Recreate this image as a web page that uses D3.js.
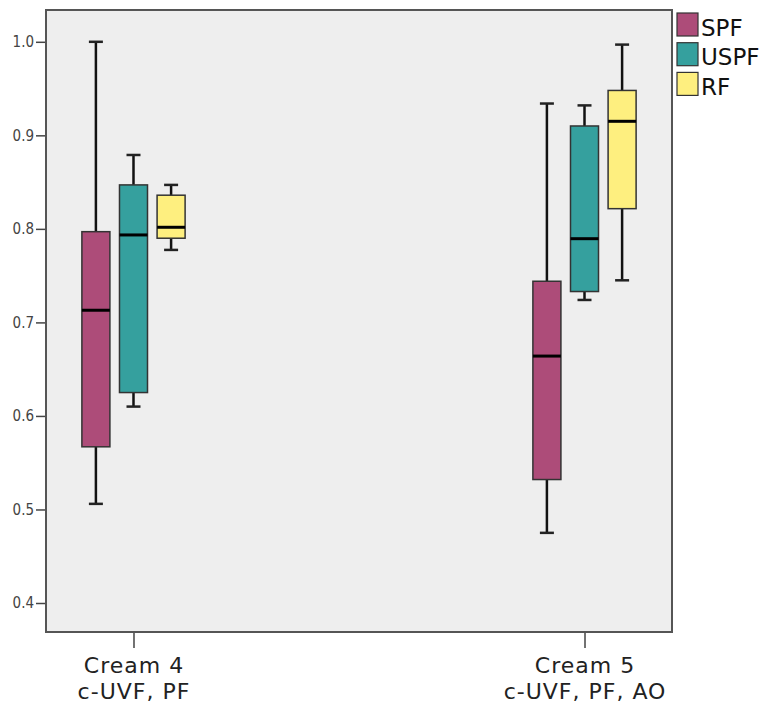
<!DOCTYPE html>
<html>
<head>
<meta charset="utf-8">
<script src="https://cdn.jsdelivr.net/npm/d3@7"></script>
<style>
  html, body { margin: 0; padding: 0; background: #ffffff; }
  svg { display: block; }
</style>
</head>
<body>
<svg id="chart" width="760" height="704"></svg>
<script>
// ---- data ----
const categories = ["Cream 4", "Cream 5"];
const categorySubLabels = ["c-UVF, PF", "c-UVF, PF, AO"];
const series = ["SPF", "USPF", "RF"];
const seriesColors = ["#AD4C79", "#35A09E", "#FEEF7F"];
const yTicks = [0.4, 0.5, 0.6, 0.7, 0.8, 0.9, 1.0];

// box statistics per series, one value per category
const SPF_min    = [0.506, 0.475];
const SPF_q1     = [0.567, 0.532];
const SPF_median = [0.713, 0.664];
const SPF_q3     = [0.797, 0.744];
const SPF_max    = [1.000, 0.934];

const USPF_min    = [0.610, 0.724];
const USPF_q1     = [0.625, 0.733];
const USPF_median = [0.7935, 0.7895];
const USPF_q3     = [0.847, 0.910];
const USPF_max    = [0.879, 0.932];

const RF_min    = [0.7775, 0.745];
const RF_q1     = [0.790, 0.8216];
const RF_median = [0.8017, 0.915];
const RF_q3     = [0.836, 0.948];
const RF_max    = [0.847, 0.997];

const stats = {
  SPF:  {min: SPF_min,  q1: SPF_q1,  med: SPF_median,  q3: SPF_q3,  max: SPF_max},
  USPF: {min: USPF_min, q1: USPF_q1, med: USPF_median, q3: USPF_q3, max: USPF_max},
  RF:   {min: RF_min,   q1: RF_q1,   med: RF_median,   q3: RF_q3,   max: RF_max}
};

// ---- layout ----
const plot = {left: 46, top: 10, right: 672, bottom: 632};
const svg = d3.select("#chart");

const y = d3.scaleLinear().domain([0.369, 1.034]).range([plot.bottom, plot.top]);
const x = d3.scalePoint().domain(categories).range([plot.left, plot.right]).padding(0.194);
const xs = d3.scaleBand().domain(series).range([-56.4, 56.4]).paddingInner(0.255).paddingOuter(0.1275);
const color = d3.scaleOrdinal().domain(series).range(seriesColors);

// plot background
svg.append("rect")
  .attr("x", plot.left).attr("y", plot.top)
  .attr("width", plot.right - plot.left).attr("height", plot.bottom - plot.top)
  .attr("fill", "#eeeeee");

// y axis
const yAxis = svg.append("g")
  .attr("transform", `translate(${plot.left},0)`)
  .call(d3.axisLeft(y).tickValues(yTicks).tickFormat(d3.format(".1f")).tickSize(10).tickPadding(2));
yAxis.select(".domain").remove();
yAxis.selectAll(".tick line").attr("stroke", "#444").attr("stroke-width", 1.5);
yAxis.selectAll(".tick text")
  .attr("font-family", "'DejaVu Sans Condensed', 'DejaVu Sans', sans-serif")
  .attr("font-size", 15).attr("fill", "#444");

// x axis
const xAxis = svg.append("g")
  .attr("transform", `translate(0,${plot.bottom})`)
  .call(d3.axisBottom(x).tickSize(16).tickFormat(""));
xAxis.select(".domain").remove();
xAxis.selectAll(".tick line").attr("stroke", "#444").attr("stroke-width", 1.5);
xAxis.selectAll(".tick text").remove();
xAxis.selectAll(".tick").each(function(d, i) {
  const g = d3.select(this);
  [categories[i], categorySubLabels[i]].forEach((label, k) => {
    g.append("text")
      .attr("text-anchor", "middle")
      .attr("x", 0).attr("y", 41 + k * 26)
      .attr("font-family", "'DejaVu Sans', sans-serif")
      .attr("font-size", 22)
      .attr("letter-spacing", 1)
      .attr("fill", "#222")
      .text(label);
  });
});

// boxes
const bw = xs.bandwidth();
const capW = 14;
series.forEach(s => {
  const st = stats[s];
  const g = svg.append("g").attr("class", "series-" + s);
  categories.forEach((c, i) => {
    const cx = x(c) + xs(s) + bw / 2;
    const left = x(c) + xs(s);
    // whiskers
    g.append("line").attr("x1", cx).attr("x2", cx).attr("y1", y(st.max[i])).attr("y2", y(st.q3[i]))
      .attr("stroke", "#111").attr("stroke-width", 2.5);
    g.append("line").attr("x1", cx).attr("x2", cx).attr("y1", y(st.q1[i])).attr("y2", y(st.min[i]))
      .attr("stroke", "#111").attr("stroke-width", 2.5);
    g.append("line").attr("x1", cx - capW / 2).attr("x2", cx + capW / 2).attr("y1", y(st.max[i])).attr("y2", y(st.max[i]))
      .attr("stroke", "#222").attr("stroke-width", 2.5);
    g.append("line").attr("x1", cx - capW / 2).attr("x2", cx + capW / 2).attr("y1", y(st.min[i])).attr("y2", y(st.min[i]))
      .attr("stroke", "#222").attr("stroke-width", 2.5);
    // box
    g.append("rect").attr("x", left).attr("width", bw)
      .attr("y", y(st.q3[i])).attr("height", y(st.q1[i]) - y(st.q3[i]))
      .attr("fill", color(s)).attr("stroke", "#333").attr("stroke-width", 1.5);
    // median
    g.append("line").attr("x1", left).attr("x2", left + bw).attr("y1", y(st.med[i])).attr("y2", y(st.med[i]))
      .attr("stroke", "#000").attr("stroke-width", 3);
  });
});

// frame
svg.append("rect")
  .attr("x", plot.left).attr("y", plot.top)
  .attr("width", plot.right - plot.left).attr("height", plot.bottom - plot.top)
  .attr("fill", "none").attr("stroke", "#555").attr("stroke-width", 2);

// legend
const legend = svg.append("g").attr("transform", "translate(677,13)");
series.forEach((s, i) => {
  const row = legend.append("g").attr("transform", `translate(0,${i * 29.7})`);
  row.append("rect").attr("width", 21).attr("height", 23)
    .attr("fill", color(s)).attr("stroke", "#333").attr("stroke-width", 1.2);
  row.append("text").attr("x", 24).attr("y", 22.5)
    .attr("font-family", "'DejaVu Sans', sans-serif")
    .attr("font-size", 23).attr("fill", "#111").text(s);
});
</script>
</body>
</html>
